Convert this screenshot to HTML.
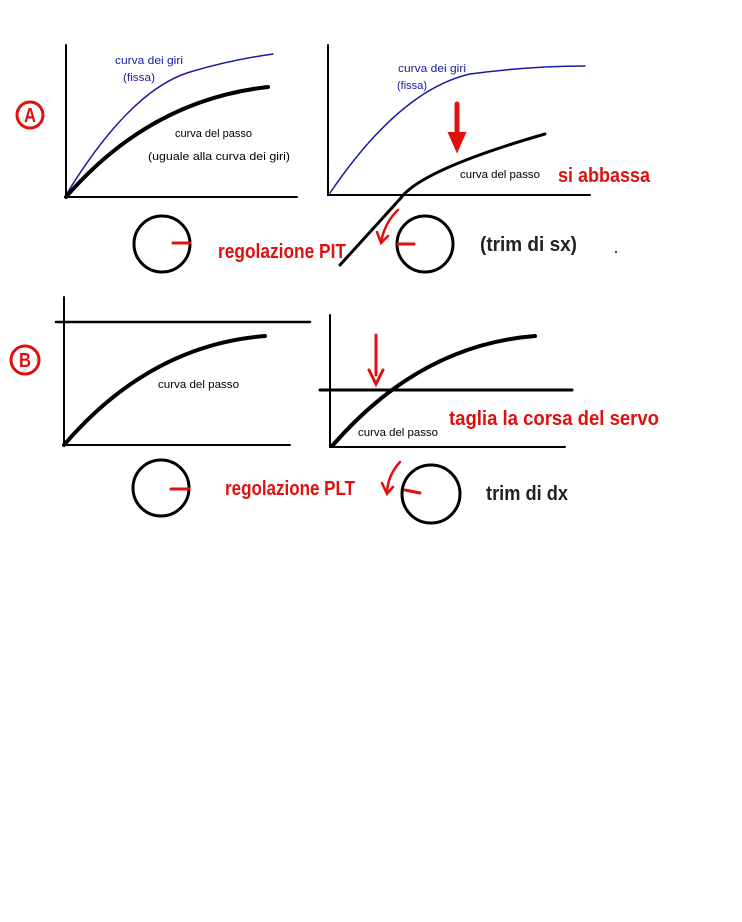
<!DOCTYPE html>
<html><head><meta charset="utf-8"><style>
html,body{margin:0;padding:0;background:#fff;}
svg{display:block}
.s{font-family:"Liberation Sans",sans-serif;font-size:11px;}
.b{font-family:"Liberation Sans",sans-serif;font-weight:bold;font-size:20px;}
</style></head><body>
<svg width="742" height="922" viewBox="0 0 742 922" xmlns="http://www.w3.org/2000/svg">
<g fill="none" stroke-linecap="round">
<path d="M66 45V197H297" stroke="#000" stroke-width="2"/>
<path d="M66 195Q130 90 190 72Q230 60 273 54" stroke="#1a1aa0" stroke-width="1.5"/>
<path d="M66 197Q150 100 268 87" stroke="#000" stroke-width="4"/>
<circle cx="30" cy="115" r="13" stroke="#e01010" stroke-width="3"/>
<circle cx="162" cy="244" r="28" stroke="#000" stroke-width="3"/>
<path d="M173 243H190" stroke="#e01010" stroke-width="3"/>
<path d="M328 45V195H590" stroke="#000" stroke-width="2"/>
<path d="M330 193Q400 90 470 74Q530 66 585 66" stroke="#1a1aa0" stroke-width="1.5"/>
<path d="M340 265L400 199Q420 170 545 134" stroke="#000" stroke-width="3"/>
<path d="M457 104V140" stroke="#e01010" stroke-width="5"/>
<path d="M449 133L457 151L465 133Z" fill="#e01010" stroke="#e01010" stroke-width="2"/>
<path d="M398 210Q385 222 381 242" stroke="#e01010" stroke-width="2.5"/>
<path d="M377 232L381 243L388 236" stroke="#e01010" stroke-width="2.5"/>
<circle cx="425" cy="244" r="28" stroke="#000" stroke-width="3"/>
<path d="M398 244H414" stroke="#e01010" stroke-width="3"/>
<path d="M64 297V445H290" stroke="#000" stroke-width="2"/>
<path d="M56 322H310" stroke="#000" stroke-width="2.5"/>
<path d="M64 445Q150 345 265 336" stroke="#000" stroke-width="4"/>
<circle cx="25" cy="360" r="14" stroke="#e01010" stroke-width="3"/>
<circle cx="161" cy="488" r="28" stroke="#000" stroke-width="3"/>
<path d="M171 489H189" stroke="#e01010" stroke-width="3"/>
<path d="M330 315V447H565" stroke="#000" stroke-width="2"/>
<path d="M320 390H572" stroke="#000" stroke-width="3"/>
<path d="M333 445Q420 345 535 336" stroke="#000" stroke-width="4"/>
<path d="M376 335V375" stroke="#e01010" stroke-width="3"/>
<path d="M369 370L376 384L383 370" stroke="#e01010" stroke-width="3"/>
<path d="M400 462Q388 475 387 492" stroke="#e01010" stroke-width="2.5"/>
<path d="M382 483L387 494L393 487" stroke="#e01010" stroke-width="2.5"/>
<circle cx="431" cy="494" r="29" stroke="#000" stroke-width="3"/>
<path d="M405 490L420 493" stroke="#e01010" stroke-width="3"/>
</g>
<circle cx="616" cy="252" r="1" fill="#000"/>
<text x="24" y="122" class="b" font-size="17" fill="#e01010" textLength="12" lengthAdjust="spacingAndGlyphs">A</text>
<text x="19" y="367" class="b" font-size="17" fill="#e01010" textLength="12" lengthAdjust="spacingAndGlyphs">B</text>
<text x="115" y="64" class="s" fill="#1a1aa0" textLength="68" lengthAdjust="spacingAndGlyphs">curva dei giri</text>
<text x="123" y="81" class="s" fill="#1a1aa0" textLength="32" lengthAdjust="spacingAndGlyphs">(fissa)</text>
<text x="175" y="137" class="s" textLength="77" lengthAdjust="spacingAndGlyphs">curva del passo</text>
<text x="148" y="160" class="s" textLength="142" lengthAdjust="spacingAndGlyphs">(uguale alla curva dei giri)</text>
<text x="398" y="72" class="s" fill="#1a1aa0" textLength="68" lengthAdjust="spacingAndGlyphs">curva dei giri</text>
<text x="397" y="89" class="s" fill="#1a1aa0" textLength="30" lengthAdjust="spacingAndGlyphs">(fissa)</text>
<text x="460" y="178" class="s" textLength="80" lengthAdjust="spacingAndGlyphs">curva del passo</text>
<text x="558" y="182" class="b" fill="#e01010" textLength="92" lengthAdjust="spacingAndGlyphs">si abbassa</text>
<text x="218" y="258" class="b" fill="#e01010" textLength="128" lengthAdjust="spacingAndGlyphs">regolazione PIT</text>
<text x="480" y="251" class="b" fill="#222" textLength="97" lengthAdjust="spacingAndGlyphs">(trim di sx)</text>
<text x="158" y="388" class="s" textLength="81" lengthAdjust="spacingAndGlyphs">curva del passo</text>
<text x="358" y="436" class="s" textLength="80" lengthAdjust="spacingAndGlyphs">curva del passo</text>
<text x="449" y="425" class="b" fill="#e01010" textLength="210" lengthAdjust="spacingAndGlyphs">taglia la corsa del servo</text>
<text x="225" y="495" class="b" fill="#e01010" textLength="130" lengthAdjust="spacingAndGlyphs">regolazione PLT</text>
<text x="486" y="500" class="b" fill="#222" textLength="82" lengthAdjust="spacingAndGlyphs">trim di dx</text>
</svg>
</body></html>
